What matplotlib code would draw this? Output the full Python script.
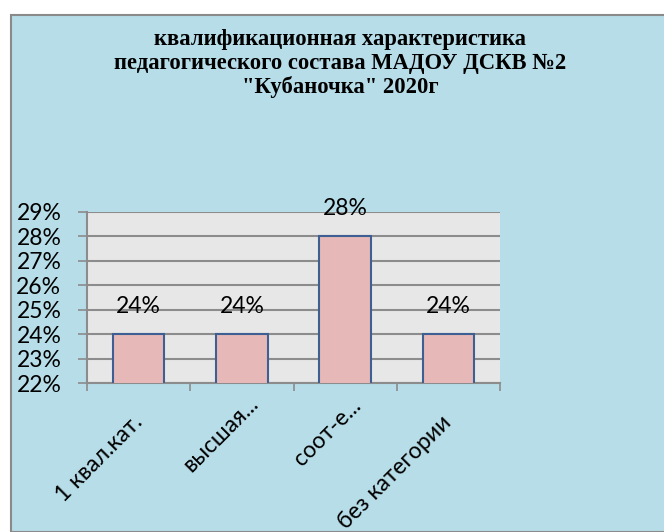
import matplotlib
matplotlib.use("Agg")
import matplotlib.pyplot as plt
import matplotlib.transforms as mtransforms
from matplotlib.patches import Rectangle

# Данные диаграммы
categories = ["1 квал.кат.", "высшая...", "соот-е...", "без категории"]
values = [0.24, 0.24, 0.28, 0.24]
value_labels = ["24%", "24%", "28%", "24%"]
y_ticks = [0.22, 0.23, 0.24, 0.25, 0.26, 0.27, 0.28, 0.29]
y_tick_labels = ["22%", "23%", "24%", "25%", "26%", "27%", "28%", "29%"]
title = 'квалификационная характеристика\nпедагогического состава МАДОУ ДСКВ №2\n"Кубаночка" 2020г'

BG = "#b7dde8"
PLOT_BG = "#e7e7e7"
GRID = "#8c8c8c"
BAR_FILL = "#e6b8b7"
BAR_EDGE = "#3d5f93"
LABEL_FONT = "Lato"
FS = 16.5

fig = plt.figure(figsize=(6.64, 5.32), dpi=100, facecolor="white")
fig.patches.append(Rectangle((11 / 664, 0), 1, 1 - 15 / 532, transform=fig.transFigure,
                             facecolor=BG, edgecolor="#8a8a8a", linewidth=1.5, zorder=-10))

ax = fig.add_axes([87 / 664, 1 - 383 / 532, 413 / 664, 171 / 532])
ax.set_facecolor(PLOT_BG)

x = list(range(len(categories)))
ax.bar(x, values, width=0.5, color=BAR_FILL, edgecolor=BAR_EDGE, linewidth=1.5, zorder=3)
ax.set_xlim(-0.5, len(categories) - 0.5)
ax.set_ylim(0.22, 0.29)

# сетка
ax.set_yticks(y_ticks)
ax.set_yticklabels(y_tick_labels, fontsize=FS, family=LABEL_FONT)
ax.yaxis.grid(True, color=GRID, linewidth=1.5, zorder=1)
ax.set_axisbelow(True)
ax.tick_params(axis="y", length=6.5, width=1.2, color=GRID, pad=12)

# засечки на границах категорий, подписи в центрах
ax.set_xticks([i - 0.5 for i in range(len(categories) + 1)])
ax.set_xticklabels([])
ax.tick_params(axis="x", which="major", length=6, width=1.2, color=GRID)
ax.set_xticks(x, minor=True)
ax.set_xticklabels(categories, minor=True, rotation=45, ha="right", va="center",
                   rotation_mode="anchor", fontsize=FS, family=LABEL_FONT)
ax.tick_params(axis="x", which="minor", length=0, pad=0)

offsets = [(1, -36), (13, -17), (12, -19), (0, -36)]
for lbl, (dx, dy) in zip(ax.get_xticklabels(minor=True), offsets):
    lbl.set_transform(lbl.get_transform() + mtransforms.ScaledTranslation(dx / 100, dy / 100, fig.dpi_scale_trans))

for s in ["top", "right"]:
    ax.spines[s].set_visible(False)
for s in ["left", "bottom"]:
    ax.spines[s].set_color(GRID)
    ax.spines[s].set_linewidth(1.5)

# подписи значений
for xi, v, t in zip(x, values, value_labels):
    ax.annotate(t, (xi, v), xytext=(0, 20), textcoords="offset points",
                ha="center", va="center", fontsize=FS, family=LABEL_FONT, zorder=4)

fig.text(340 / 664, 1 - 29 / 532, title, ha="center", va="top", fontsize=16.3,
         fontweight="bold", family="Liberation Serif", linespacing=1.16)

fig.savefig("out.png", dpi=100, facecolor=fig.get_facecolor())
